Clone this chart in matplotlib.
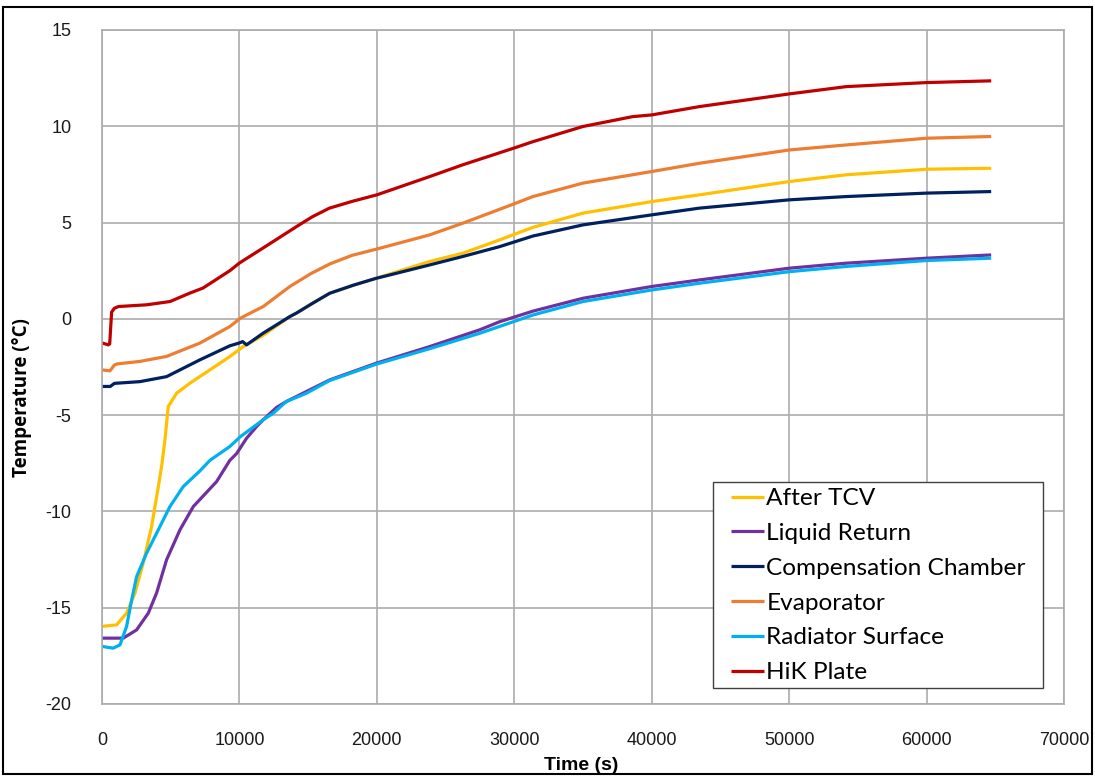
import matplotlib
matplotlib.use("Agg")
import matplotlib.pyplot as plt
from matplotlib.patches import Rectangle

# ---------------- data ----------------
t_tcv = [0, 1070, 1790, 2400, 3000, 3610, 4100, 4350, 4580, 4820, 5430, 6400, 7850, 9300, 10270, 11730,
         13670, 14150, 15300, 16570, 18300, 19970, 23840, 26260, 28930, 31350, 35000, 40000, 43470, 50000, 54130, 60000, 64700]
T_tcv = [-15.97, -15.89, -15.28, -14.24, -12.68, -10.78, -8.71, -7.6, -6.28, -4.55, -3.86, -3.34, -2.65, -1.96, -1.44, -0.85,
         0.12, 0.3, 0.8, 1.33, 1.75, 2.11, 2.98, 3.41, 4.1, 4.75, 5.49, 6.09, 6.44, 7.13, 7.48, 7.77, 7.82]

t_liq = [0, 1550, 2520, 3370, 3970, 4700, 5670, 6640, 8340, 9300, 9790, 10520, 11250, 11730, 12700, 13420,
         16570, 19970, 23840, 27480, 28930, 31350, 35000, 40000, 43470, 50000, 54130, 60000, 64700]
T_liq = [-16.58, -16.58, -16.15, -15.28, -14.24, -12.51, -10.96, -9.75, -8.45, -7.35, -7.0, -6.2, -5.59, -5.24, -4.6, -4.29,
         -3.17, -2.3, -1.44, -0.57, -0.15, 0.4, 1.07, 1.68, 2.02, 2.63, 2.89, 3.15, 3.32]

t_cc = [0, 600, 900, 1100, 2760, 4700, 7120, 9300, 10000, 10230, 10520, 11730, 13670, 14150, 15300, 16570, 18300,
        19970, 20940, 23840, 26260, 28930, 31350, 35000, 40000, 43470, 50000, 54130, 60000, 64700]
T_cc = [-3.51, -3.51, -3.35, -3.34, -3.26, -3.0, -2.13, -1.4, -1.25, -1.18, -1.35, -0.74, 0.12, 0.3, 0.8, 1.33, 1.75,
        2.11, 2.28, 2.8, 3.24, 3.75, 4.3, 4.88, 5.4, 5.75, 6.18, 6.35, 6.53, 6.61]

t_evap = [0, 580, 900, 1100, 2760, 4700, 7120, 9300, 10080, 11730, 13670, 15200, 16570, 18200, 19970, 23840, 26260, 29900,
          31350, 35000, 40000, 43470, 50000, 54130, 60000, 64700]
T_evap = [-2.65, -2.7, -2.4, -2.34, -2.21, -1.95, -1.26, -0.4, 0.04, 0.64, 1.68, 2.35, 2.85, 3.3, 3.62, 4.36, 4.97, 5.95,
          6.35, 7.05, 7.65, 8.08, 8.77, 9.03, 9.38, 9.47]

t_rad = [0, 820, 1310, 1790, 2160, 2520, 3250, 4220, 4940, 5910, 7120, 7850, 9300, 10080, 11730, 12460,
         13420, 14880, 16570, 19970, 23840, 27480, 31350, 35000, 40000, 43470, 50000, 54130, 60000, 64700]
T_rad = [-17.01, -17.1, -16.93, -15.97, -14.59, -13.38, -12.16, -10.78, -9.75, -8.71, -7.9, -7.35, -6.63, -6.11, -5.24, -4.9,
         -4.29, -3.86, -3.2, -2.35, -1.55, -0.75, 0.2, 0.9, 1.5, 1.85, 2.45, 2.72, 3.03, 3.15]

t_hik = [0, 450, 560, 700, 900, 1200, 3250, 4950, 6400, 7350, 9300, 10000, 11700, 14150, 15300, 16550, 18200, 20000,
         23850, 26250, 29900, 31350, 35000, 38600, 40000, 43450, 50000, 54150, 60000, 64700]
T_hik = [-1.25, -1.35, -1.3, 0.35, 0.55, 0.64, 0.73, 0.9, 1.34, 1.6, 2.5, 2.9, 3.67, 4.79, 5.3, 5.75, 6.1, 6.44,
         7.39, 8.0, 8.85, 9.2, 9.99, 10.5, 10.59, 11.02, 11.68, 12.06, 12.27, 12.36]

labels = ["After TCV", "Liquid Return", "Compensation Chamber", "Evaporator", "Radiator Surface", "HiK Plate"]
colors = ["#FFC000", "#7030A0", "#002060", "#ED7D31", "#00B0F0", "#C00000"]

x_ticks = [0, 10000, 20000, 30000, 40000, 50000, 60000, 70000]
y_ticks = [-20, -15, -10, -5, 0, 5, 10, 15]

# ---------------- plot ----------------
tick_font = ["Liberation Sans", "DejaVu Sans"]
W, H = 1095, 777
fig = plt.figure(figsize=(W / 100, H / 100), dpi=100)
ax = fig.add_axes([102/W, 1 - 704/H, 962/W, 674/H])

series = [(t_tcv, T_tcv), (t_liq, T_liq), (t_cc, T_cc), (t_evap, T_evap), (t_rad, T_rad), (t_hik, T_hik)]
for (tt, TT), lab, col in zip(series, labels, colors):
    ax.plot(tt, TT, color=col, lw=2.3, label=lab, solid_capstyle="butt", solid_joinstyle="round")

ax.set_xlim(0, 70000)
ax.set_ylim(-20, 15)
ax.set_xticks(x_ticks)
ax.set_yticks(y_ticks)
ax.set_xticklabels([str(v) for v in x_ticks], family=tick_font, fontsize=13)
ax.set_yticklabels([str(v) for v in y_ticks], family=tick_font, fontsize=13)
ax.tick_params(length=0, colors="#1a1a1a")
ax.tick_params(axis="x", pad=20)
ax.tick_params(axis="y", pad=22)
ax.grid(True, color="#ABABAB", lw=1.2)
ax.set_axisbelow(True)
for s in ax.spines.values():
    s.set_color("#ABABAB")
    s.set_linewidth(1.2)

fig.text(581/W, 1 - 765/H, "Time (s)", ha="center", va="center",
         fontsize=14, fontweight="bold", family=tick_font)
fig.text(22/W, 1 - 398/H, "Temperature (°C)", ha="center", va="center", rotation=90,
         fontsize=13.5, fontweight="bold", family=["Open Sans", "DejaVu Sans"])

# legend: entries without frame, frame drawn separately
leg = ax.legend(loc="upper left", bbox_to_anchor=((731 - 102) / 962, (704 - 488) / 674), borderaxespad=0,
                prop={"family": "Lato", "size": 17.6}, handlelength=1.35, handletextpad=0.1,
                labelspacing=0.56, frameon=False, borderpad=0)
ax.add_patch(Rectangle(((713 - 102) / 962, (704 - 688) / 674), 330 / 962, 206 / 674,
                       transform=ax.transAxes, facecolor="white", edgecolor="#404040", lw=1.0, zorder=4))
leg.set_zorder(5)

fig.patches.append(Rectangle((3/W, 1 - 774/H), 1089/W, 767/H, transform=fig.transFigure,
                             fill=False, edgecolor="black", lw=1.5))

fig.savefig("out.png", dpi=100)
